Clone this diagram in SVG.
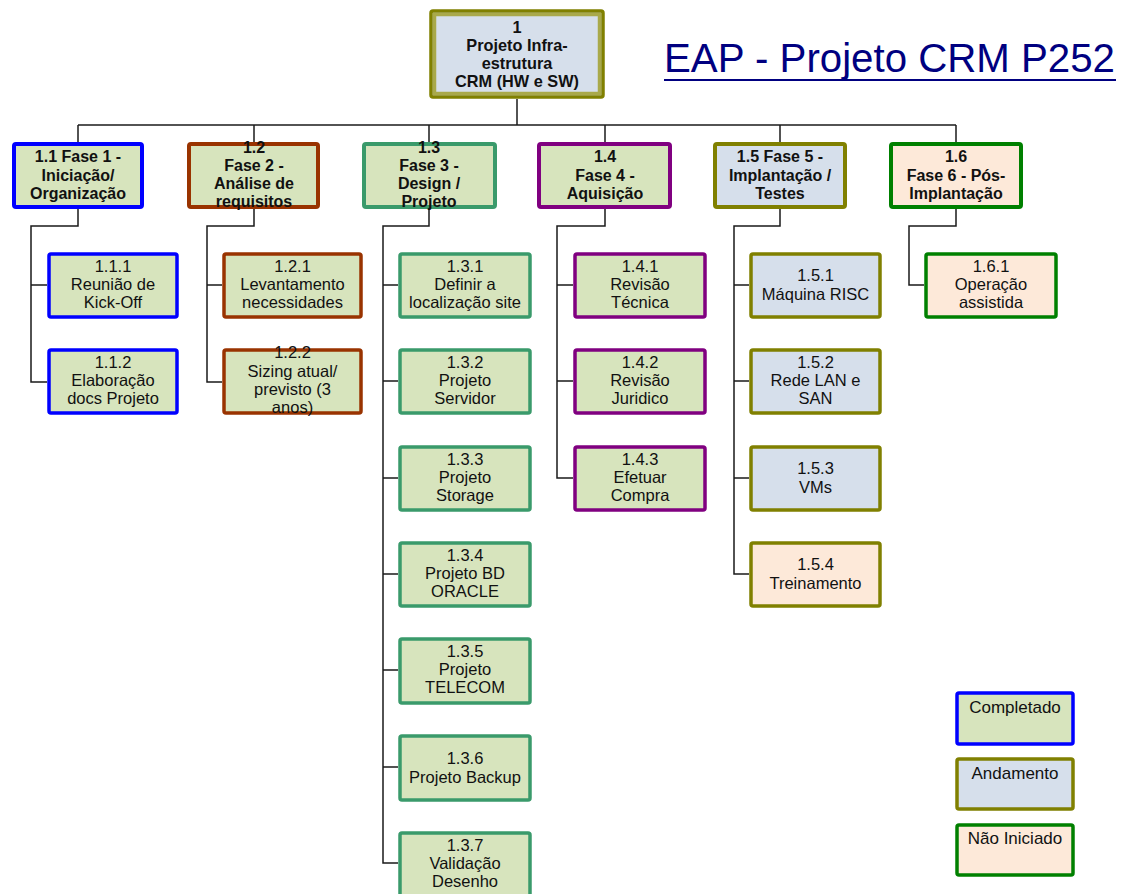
<svg xmlns="http://www.w3.org/2000/svg" width="1123" height="894" viewBox="0 0 1123 894">
<style>
text{font-family:"Liberation Sans",Arial,sans-serif;fill:#111;text-anchor:middle}
.b{font-weight:bold;font-size:16px}
.n{font-size:16.5px}
.lg{font-size:17px}
.top{font-weight:bold;font-size:16.3px}
.title{font-size:40px;fill:#000080;text-anchor:start}
rect{stroke-width:3.5}
.ph{stroke-width:4}
.gf{fill:#D7E4BD}
.bf{fill:#D6DFEB}
.pf{fill:#FDE9D9}
.cBlue{stroke:#0000FF}
.cBrown{stroke:#993300}
.cSea{stroke:#3A9A6B}
.cPur{stroke:#800080}
.cOl{stroke:#808000}
.cGr{stroke:#008000}
.con line,.con path{stroke:#1a1a1a;stroke-width:1.5;fill:none}
</style>

<g id="title">
<text class="title" x="664" y="72" textLength="451" lengthAdjust="spacingAndGlyphs">EAP - Projeto CRM P252</text>
<line x1="664" y1="80" x2="1116" y2="80" stroke="#000080" stroke-width="2"/>
</g>

<g class="con" id="connectors">
<line x1="517" y1="99" x2="517" y2="125"/>
<line x1="78" y1="125" x2="956" y2="125"/>
<line x1="78" y1="125" x2="78" y2="143"/>
<line x1="254" y1="125" x2="254" y2="143"/>
<line x1="429" y1="125" x2="429" y2="143"/>
<line x1="605" y1="125" x2="605" y2="143"/>
<line x1="780" y1="125" x2="780" y2="143"/>
<line x1="956" y1="125" x2="956" y2="143"/>
<path d="M78 209 V226 H31 V382 H47 M31 285 H47"/>
<path d="M254 209 V226 H207 V382 H222 M207 285 H222"/>
<path d="M429 205 V226 H383 V863 H398 M383 285 H398 M383 381 H398 M383 478 H398 M383 574 H398 M383 670 H398 M383 767 H398"/>
<path d="M605 209 V226 H557 V478 H573 M557 285 H573 M557 381 H573"/>
<path d="M780 209 V226 H734 V574 H749 M734 285 H749 M734 381 H749 M734 478 H749"/>
<path d="M956 209 V226 H909 V285 H924"/>
</g>

<g id="n1">
<rect x="431" y="11" width="172" height="86" rx="2" class="bf" stroke="#808000" stroke-width="5"/>
<rect x="434.5" y="14.5" width="165" height="79" fill="none" stroke="#A9A94A" stroke-width="1"/>
<text class="top" x="517" y="33">1</text>
<text class="top" x="517" y="51">Projeto Infra-</text>
<text class="top" x="517" y="69">estrutura</text>
<text class="top" x="517" y="87">CRM (HW e SW)</text>
</g>

<g id="n1_1">
<rect class="ph gf cBlue" x="14" y="144" width="128" height="63" rx="2"/>
<text class="b" x="78" y="162">1.1 Fase 1 -</text>
<text class="b" x="78" y="180.5">Iniciação/</text>
<text class="b" x="78" y="199">Organização</text>
</g>
<g id="n1_2">
<rect class="ph gf cBrown" x="189" y="144" width="129" height="63" rx="2"/>
<text class="b" x="254" y="153">1.2</text>
<text class="b" x="254" y="171">Fase 2 -</text>
<text class="b" x="254" y="189">Análise de</text>
<text class="b" x="254" y="207">requisitos</text>
</g>
<g id="n1_3">
<rect class="ph gf cSea" x="364" y="144" width="131" height="63" rx="2"/>
<text class="b" x="429" y="153">1.3</text>
<text class="b" x="429" y="171">Fase 3 -</text>
<text class="b" x="429" y="189">Design /</text>
<text class="b" x="429" y="207">Projeto</text>
</g>
<g id="n1_4">
<rect class="ph gf cPur" x="539" y="144" width="131" height="63" rx="2"/>
<text class="b" x="605" y="162">1.4</text>
<text class="b" x="605" y="180.5">Fase 4 -</text>
<text class="b" x="605" y="199">Aquisição</text>
</g>
<g id="n1_5">
<rect class="ph bf cOl" x="715" y="144" width="130" height="63" rx="2"/>
<text class="b" x="780" y="162">1.5 Fase 5 -</text>
<text class="b" x="780" y="180.5">Implantação /</text>
<text class="b" x="780" y="199">Testes</text>
</g>
<g id="n1_6">
<rect class="ph pf cGr" x="891" y="144" width="130" height="63" rx="2"/>
<text class="b" x="956" y="162">1.6</text>
<text class="b" x="956" y="180.5">Fase 6 - Pós-</text>
<text class="b" x="956" y="199">Implantação</text>
</g>

<g id="n1_1_1">
<rect class="gf cBlue" x="49" y="254" width="128" height="63" rx="2"/>
<text class="n" x="113" y="272">1.1.1</text>
<text class="n" x="113" y="290">Reunião de</text>
<text class="n" x="113" y="308">Kick-Off</text>
</g>
<g id="n1_1_2">
<rect class="gf cBlue" x="49" y="350" width="128" height="63" rx="2"/>
<text class="n" x="113" y="368">1.1.2</text>
<text class="n" x="113" y="386">Elaboração</text>
<text class="n" x="113" y="404">docs Projeto</text>
</g>

<g id="n1_2_1">
<rect class="gf cBrown" x="224" y="254" width="137" height="63" rx="2"/>
<text class="n" x="292.5" y="272">1.2.1</text>
<text class="n" x="292.5" y="290">Levantamento</text>
<text class="n" x="292.5" y="308">necessidades</text>
</g>
<g id="n1_2_2">
<rect class="gf cBrown" x="224" y="350" width="137" height="63" rx="2"/>
<text class="n" x="292.5" y="358">1.2.2</text>
<text class="n" x="292.5" y="376.5">Sizing atual/</text>
<text class="n" x="292.5" y="395">previsto (3</text>
<text class="n" x="292.5" y="413">anos)</text>
</g>

<g id="n1_3_1">
<rect class="gf cSea" x="400" y="254" width="130" height="63" rx="2"/>
<text class="n" x="465" y="272">1.3.1</text>
<text class="n" x="465" y="290">Definir a</text>
<text class="n" x="465" y="308">localização site</text>
</g>
<g id="n1_3_2">
<rect class="gf cSea" x="400" y="350" width="130" height="63" rx="2"/>
<text class="n" x="465" y="368">1.3.2</text>
<text class="n" x="465" y="386">Projeto</text>
<text class="n" x="465" y="404">Servidor</text>
</g>
<g id="n1_3_3">
<rect class="gf cSea" x="400" y="447" width="130" height="63" rx="2"/>
<text class="n" x="465" y="465">1.3.3</text>
<text class="n" x="465" y="483">Projeto</text>
<text class="n" x="465" y="501">Storage</text>
</g>
<g id="n1_3_4">
<rect class="gf cSea" x="400" y="543" width="130" height="63" rx="2"/>
<text class="n" x="465" y="561">1.3.4</text>
<text class="n" x="465" y="579">Projeto BD</text>
<text class="n" x="465" y="597">ORACLE</text>
</g>
<g id="n1_3_5">
<rect class="gf cSea" x="400" y="639" width="130" height="64" rx="2"/>
<text class="n" x="465" y="657">1.3.5</text>
<text class="n" x="465" y="675">Projeto</text>
<text class="n" x="465" y="693">TELECOM</text>
</g>
<g id="n1_3_6">
<rect class="gf cSea" x="400" y="736" width="130" height="64" rx="2"/>
<text class="n" x="465" y="764">1.3.6</text>
<text class="n" x="465" y="783">Projeto Backup</text>
</g>
<g id="n1_3_7">
<rect class="gf cSea" x="400" y="833" width="130" height="64" rx="2"/>
<text class="n" x="465" y="851">1.3.7</text>
<text class="n" x="465" y="869">Validação</text>
<text class="n" x="465" y="887">Desenho</text>
</g>

<g id="n1_4_1">
<rect class="gf cPur" x="575" y="254" width="130" height="63" rx="2"/>
<text class="n" x="640" y="272">1.4.1</text>
<text class="n" x="640" y="290">Revisão</text>
<text class="n" x="640" y="308">Técnica</text>
</g>
<g id="n1_4_2">
<rect class="gf cPur" x="575" y="350" width="130" height="63" rx="2"/>
<text class="n" x="640" y="368">1.4.2</text>
<text class="n" x="640" y="386">Revisão</text>
<text class="n" x="640" y="404">Juridico</text>
</g>
<g id="n1_4_3">
<rect class="gf cPur" x="575" y="447" width="130" height="63" rx="2"/>
<text class="n" x="640" y="465">1.4.3</text>
<text class="n" x="640" y="483">Efetuar</text>
<text class="n" x="640" y="501">Compra</text>
</g>

<g id="n1_5_1">
<rect class="bf cOl" x="751" y="254" width="129" height="63" rx="2"/>
<text class="n" x="815.5" y="281">1.5.1</text>
<text class="n" x="815.5" y="300">Máquina RISC</text>
</g>
<g id="n1_5_2">
<rect class="bf cOl" x="751" y="350" width="129" height="63" rx="2"/>
<text class="n" x="815.5" y="368">1.5.2</text>
<text class="n" x="815.5" y="386">Rede LAN e</text>
<text class="n" x="815.5" y="404">SAN</text>
</g>
<g id="n1_5_3">
<rect class="bf cOl" x="751" y="447" width="129" height="63" rx="2"/>
<text class="n" x="815.5" y="474">1.5.3</text>
<text class="n" x="815.5" y="493">VMs</text>
</g>
<g id="n1_5_4">
<rect class="pf cOl" x="751" y="543" width="129" height="63" rx="2"/>
<text class="n" x="815.5" y="570">1.5.4</text>
<text class="n" x="815.5" y="589">Treinamento</text>
</g>

<g id="n1_6_1">
<rect class="pf cGr" x="926" y="254" width="130" height="63" rx="2"/>
<text class="n" x="991" y="272">1.6.1</text>
<text class="n" x="991" y="290">Operação</text>
<text class="n" x="991" y="308">assistida</text>
</g>

<g id="legend_completado">
<rect class="gf cBlue" x="957" y="693" width="116" height="51" rx="2"/>
<text class="lg" x="1015" y="713">Completado</text>
</g>
<g id="legend_andamento">
<rect class="bf cOl" x="957" y="759" width="116" height="50" rx="2"/>
<text class="lg" x="1015" y="779">Andamento</text>
</g>
<g id="legend_nao_iniciado">
<rect class="pf cGr" x="957" y="825" width="116" height="50" rx="2"/>
<text class="lg" x="1015" y="844">Não Iniciado</text>
</g>
</svg>
